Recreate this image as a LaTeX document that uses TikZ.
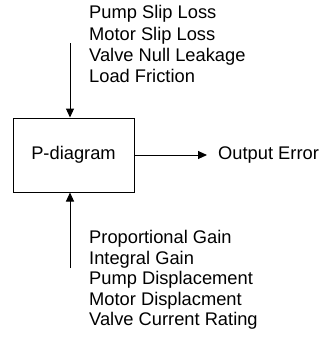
\documentclass[tikz,border=0pt]{standalone}
\usepackage{fontspec}
\setmainfont{Liberation Sans}
\usetikzlibrary{arrows.meta}
\begin{document}
\begin{tikzpicture}[x=1pt,y=-1pt,
  lbl/.style={inner sep=0pt,font=\fontsize{18.3}{21.4}\selectfont},
  conn/.style={line width=1pt,-{Triangle[length=9pt,width=8pt]}},
  boxst/.style={draw,line width=1pt,minimum width=121pt,minimum height=74pt,inner sep=0pt,font=\fontsize{18.3}{21}\selectfont}]
\useasboundingbox (0,0) rectangle (331,338);
\node[boxst] (box) at (73.5,155) {P-diagram};
\node[lbl,anchor=base west] (n1) at (89,18.5) {Pump Slip Loss};
\node[lbl,anchor=base west] (n2) at (89,40) {Motor Slip Loss};
\node[lbl,anchor=base west] (n3) at (89,61) {Valve Null Leakage};
\node[lbl,anchor=base west] (n4) at (89,82.5) {Load Friction};
\node[lbl,anchor=base west] (c1) at (89,243.5) {Proportional Gain};
\node[lbl,anchor=base west] (c2) at (89,264) {Integral Gain};
\node[lbl,anchor=base west] (c3) at (89,284.5) {Pump Displacement};
\node[lbl,anchor=base west] (c4) at (89,305) {Motor Displacment};
\node[lbl,anchor=base west] (c5) at (89,325) {Valve Current Rating};
\node[lbl,anchor=west] (out) at (218,155) {Output Error};
\coordinate (topstart) at (70,43);
\coordinate (botstart) at (70,268);
\coordinate (outend) at (207,155);
\draw[conn] (topstart) -- (topstart |- box.north);
\draw[conn] (botstart) -- (botstart |- box.south);
\draw[conn] (box.east) -- (outend);
\end{tikzpicture}
\end{document}
